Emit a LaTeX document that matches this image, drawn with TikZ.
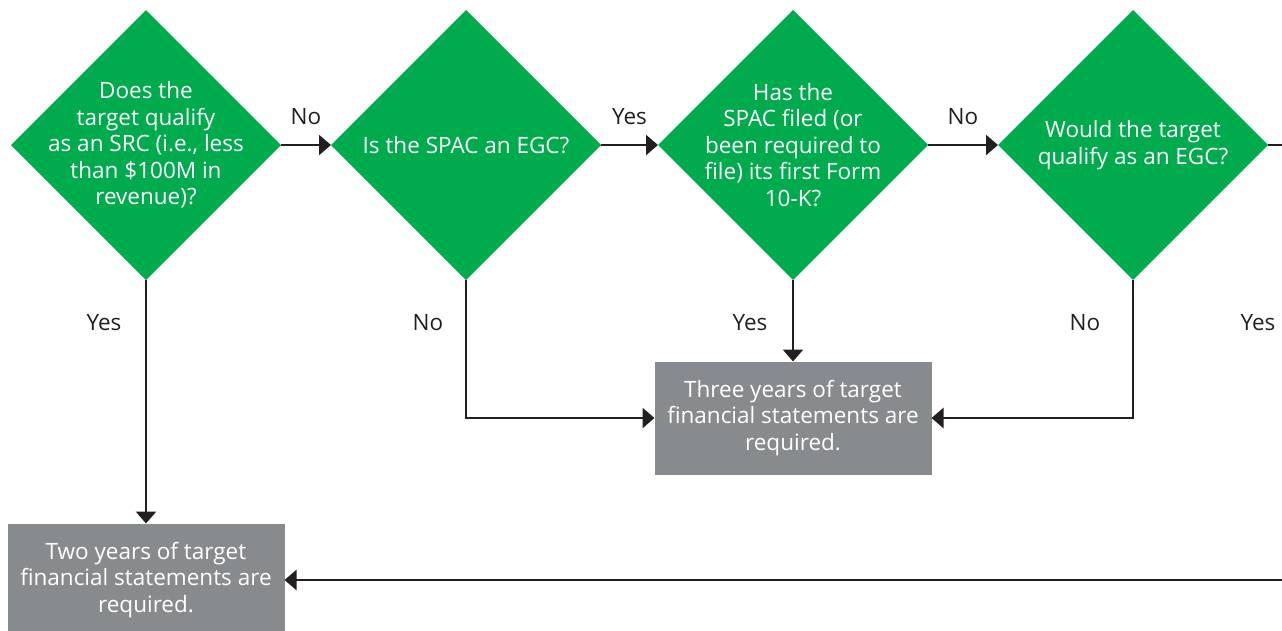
\documentclass[tikz,border=0pt]{standalone}
\usepackage{fontspec}
\setmainfont{Open Sans}
\usetikzlibrary{shapes.geometric,arrows.meta}
\definecolor{qgreen}{RGB}{0,171,78}
\definecolor{boxgray}{RGB}{136,139,141}
\definecolor{ink}{RGB}{35,31,32}
\begin{document}
\begin{tikzpicture}[x=1pt, y=-1pt,
    question/.style={diamond, aspect=1, fill=qgreen, text=white, minimum width=270pt, minimum height=270pt, inner sep=-50pt, outer sep=0pt, align=center, font=\fontsize{22.5}{26.5}\selectfont},
    outcome/.style={rectangle, fill=boxgray, text=white, minimum width=277pt, minimum height=113pt, outer sep=0pt, align=center, font=\fontsize{22.5}{26.5}\selectfont},
    answer/.style={text=ink, font=\fontsize{22.5}{26}\selectfont},
    flow/.style={draw=ink, line width=2.5pt, -{Triangle[width=20pt,length=12pt]}}]
    \useasboundingbox (0,0) rectangle (1282,630);
    \clip (0,0) rectangle (1282,630);

    \node[question] (q1) at (146,145) {Does the\\target qualify\\as an SRC (i.e., less\\than \$100M in\\revenue)?};
    \node[question] (q2) at (466,145) {Is the SPAC an EGC?};
    \node[question] (q3) at (793,145) {Has the\\SPAC filed (or\\been required to\\file) its first Form\\10-K?};
    \node[question] (q4) at (1133,145) {Would the target\\qualify as an EGC?};

    \node[outcome] (three) at (793,418) {Three years of target\\financial statements are\\required.};
    \node[outcome] (two) at (146,580) {Two years of target\\financial statements are\\required.};
    \coordinate (loop) at (1300,145);

    \draw[flow] (q1.east) -- node[answer, yshift=28pt] {No} (q2.west);
    \draw[flow] (q2.east) -- node[answer, yshift=28pt] {Yes} (q3.west);
    \draw[flow] (q3.east) -- node[answer, yshift=28pt] {No} (q4.west);

    \draw[flow] (q1.south) -- ++(0,43) node[answer, xshift=-42pt] {Yes} -- (two.north);
    \draw[flow] (q2.south) -- ++(0,43) node[answer, xshift=-38pt] {No} |- (three.west);
    \draw[flow] (q3.south) -- ++(0,43) node[answer, xshift=-43pt] {Yes} -- (three.north);
    \draw[flow] (q4.south) -- ++(0,43) node[answer, xshift=-48pt] {No} |- (three.east);
    \draw[flow] (q4.east) -- (loop) -- ++(0,178) node[answer, xshift=-42pt] {Yes} |- (two.east);
\end{tikzpicture}
\end{document}
